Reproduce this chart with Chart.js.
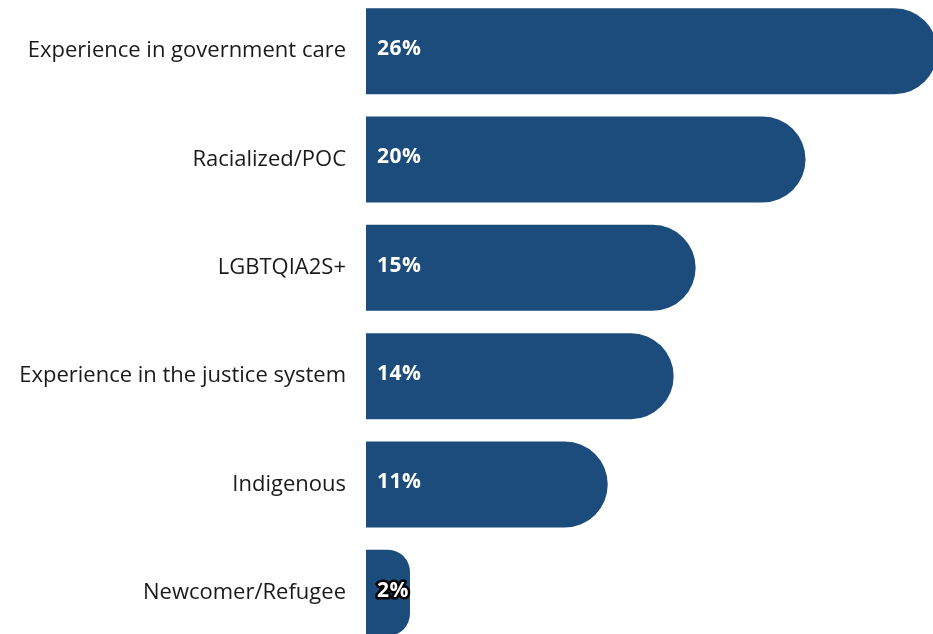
<!DOCTYPE html>
<html>
<head>
<meta charset="utf-8">
<script src="https://cdn.jsdelivr.net/npm/chart.js@4"></script>
<style>
  html, body { margin: 0; padding: 0; background: #ffffff; overflow: hidden; width: 933px; height: 634px; }
  #wrap { position: absolute; left: 0; top: -3px; width: 933px; height: 650px; }
</style>
</head>
<body>
<div id="wrap"><canvas id="chart" width="933" height="650"></canvas></div>
<script>
// Share of respondents by identity group (%)
const categories = [
  'Experience in government care',
  'Racialized/POC',
  'LGBTQIA2S+',
  'Experience in the justice system',
  'Indigenous',
  'Newcomer/Refugee'
];
const shares = [26, 20, 15, 14, 11, 2];

const BAR_COLOR = '#1c4c7c';
const TEXT_FONT = "'Open Sans', 'Lato', sans-serif";

// Writes each percentage inside the start of its bar; values whose bar is
// too short for the text get a dark outline so they stay readable.
const valueLabels = {
  id: 'valueLabels',
  afterDatasetsDraw(chart) {
    const { ctx } = chart;
    const meta = chart.getDatasetMeta(0);
    ctx.save();
    ctx.font = `bold 21px ${TEXT_FONT}`;
    if ('letterSpacing' in ctx) ctx.letterSpacing = '0.5px';
    ctx.textAlign = 'left';
    ctx.textBaseline = 'middle';
    meta.data.forEach((bar, i) => {
      const text = shares[i] + '%';
      const x = bar.base + 11;
      const y = bar.y - 2;
      const w = ctx.measureText(text).width;
      if (x + w + 6 > bar.x) {
        ctx.lineJoin = 'round';
        ctx.lineWidth = 5;
        ctx.strokeStyle = '#000000';
        ctx.strokeText(text, x, y);
      }
      ctx.fillStyle = '#ffffff';
      ctx.fillText(text, x, y);
    });
    ctx.restore();
  }
};

new Chart(document.getElementById('chart'), {
  type: 'bar',
  data: {
    labels: categories,
    datasets: [{
      data: shares,
      backgroundColor: BAR_COLOR,
      borderWidth: 0,
      borderRadius: 43,
      borderSkipped: 'start',
      categoryPercentage: 1,
      barPercentage: 0.794
    }]
  },
  options: {
    indexAxis: 'y',
    responsive: false,
    animation: false,
    layout: { padding: 0 },
    plugins: {
      legend: { display: false },
      tooltip: { enabled: false }
    },
    scales: {
      x: {
        display: false,
        min: 0,
        max: 25.8
      },
      y: {
        grid: { display: false, drawTicks: false },
        border: { display: false },
        ticks: {
          color: '#1a1a1a',
          padding: 20,
          font: { family: TEXT_FONT, size: 22 }
        },
        afterFit(scale) {
          // fixed label column; no extra top/bottom space for the labels
          scale.width = 366;
          scale.paddingTop = 0;
          scale.paddingBottom = 0;
        }
      }
    }
  },
  plugins: [valueLabels]
});
</script>
</body>
</html>
